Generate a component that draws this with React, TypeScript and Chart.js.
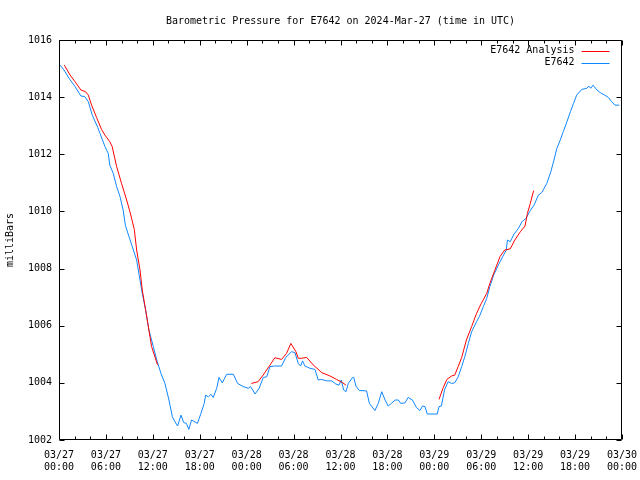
import React, { useEffect, useRef } from "react";
import { Chart, registerables } from "chart.js";

Chart.register(...registerables);

const TITLE = "Barometric Pressure for E7642 on 2024-Mar-27 (time in UTC)";
const Y_TITLE = "milliBars";
const SERIES_NAMES = ["E7642 Analysis", "E7642"];
const START_DAY = 27;
const X_TICK_HOURS = [0, 6, 12, 18, 24, 30, 36, 42, 48, 54, 60, 66, 72];
const Y_TICKS = [1002, 1004, 1006, 1008, 1010, 1012, 1014, 1016];

// Hours since 2024-03-27 00:00 UTC, pressure in mb
const stationHours = [
  0.13, 0.64, 1.28, 2.05, 2.8, 3.3, 3.75, 4.26, 4.95, 5.24, 5.88, 6.3, 6.5, 6.94, 7.37, 7.8, 8.2, 8.5, 8.95, 9.37,
  9.93, 10.36, 10.65, 11.08, 11.5, 12.06, 12.5, 13.04, 13.55, 14.06, 14.5, 14.83, 15.17, 15.6, 15.95, 16.3, 16.6,
  16.95, 17.4, 17.7, 18.15, 18.57, 18.75, 19.1, 19.43, 19.73, 20.17, 20.46, 20.88, 21.44, 22.3, 22.84, 23.56, 24.2,
  24.5, 25.07, 25.6, 26.12, 26.56, 26.98, 27.6, 28.46, 29.0, 29.74, 30.17, 30.6, 30.9, 31.15, 31.44, 32.1, 32.73,
  33.16, 33.6, 34.23, 34.87, 35.4, 35.8, 36.1, 36.4, 36.7, 37.0, 37.55, 37.7, 37.97, 38.4, 39.33, 39.7, 40.4, 40.83,
  41.27, 41.7, 42.1, 42.5, 43.0, 43.4, 43.7, 44.24, 44.66, 45.2, 45.7, 46.15, 46.5, 46.8, 47.1, 48.37, 48.6, 48.9,
  49.3, 49.76, 50.2, 50.6, 51.05, 51.5, 51.9, 52.35, 52.77, 53.4, 53.76, 54.27, 54.7, 55.1, 55.6, 56.2, 56.75, 57.2,
  57.35, 57.7, 58.2, 58.76, 59.2, 59.74, 60.17, 60.77, 61.3, 61.74, 62.38, 62.9, 63.3, 63.66, 64.1, 64.5, 64.96,
  65.4, 65.8, 66.2, 66.85, 67.5, 67.75, 68.0, 68.3, 68.8, 69.2, 69.8, 70.25, 70.68, 71.1, 71.66,
];
const stationValues = [
  1015.12, 1014.95, 1014.66, 1014.37, 1014.04, 1014.02, 1013.84, 1013.37, 1012.94, 1012.73, 1012.27, 1012.03,
  1011.62, 1011.33, 1010.87, 1010.52, 1010.05, 1009.5, 1009.12, 1008.77, 1008.3, 1007.6, 1007.13, 1006.55, 1005.85,
  1005.27, 1004.8, 1004.33, 1003.98, 1003.4, 1002.81, 1002.64, 1002.49, 1002.87, 1002.61, 1002.58, 1002.37, 1002.7,
  1002.63, 1002.58, 1002.93, 1003.28, 1003.57, 1003.51, 1003.6, 1003.49, 1003.81, 1004.19, 1004.0, 1004.3, 1004.3,
  1003.98, 1003.87, 1003.81, 1003.87, 1003.61, 1003.81, 1004.19, 1004.21, 1004.57, 1004.59, 1004.59, 1004.89,
  1005.09, 1005.06, 1004.68, 1004.59, 1004.77, 1004.59, 1004.51, 1004.47, 1004.1, 1004.12, 1004.07, 1004.07,
  1003.96, 1003.92, 1004.1, 1003.75, 1003.69, 1003.98, 1004.19, 1004.19, 1003.89, 1003.73, 1003.72, 1003.28,
  1003.03, 1003.28, 1003.69, 1003.4, 1003.19, 1003.28, 1003.4, 1003.4, 1003.28, 1003.3, 1003.49, 1003.4, 1003.14,
  1003.03, 1003.19, 1003.17, 1002.91, 1002.91, 1003.17, 1003.19, 1003.75, 1004.04, 1003.98, 1004.0, 1004.21,
  1004.57, 1004.92, 1005.38, 1005.79, 1006.14, 1006.32, 1006.67, 1006.96, 1007.37, 1007.78, 1008.13, 1008.42,
  1008.65, 1009.0, 1008.94, 1009.21, 1009.41, 1009.64, 1009.76, 1009.99, 1010.23, 1010.57, 1010.66, 1010.98,
  1011.39, 1011.8, 1012.2, 1012.5, 1012.8, 1013.14, 1013.49, 1013.78, 1014.07, 1014.27, 1014.31, 1014.39, 1014.31,
  1014.42, 1014.25, 1014.16, 1014.07, 1013.99, 1013.84, 1013.72, 1013.72,
];

// Analysis series; null marks a gap between analysis runs
const analysisHours = [
  0.68, 1.4, 2.05, 2.8, 3.4, 3.75, 4.17, 4.8, 5.44, 5.88, 6.5, 6.8, 7.37, 8.0, 8.65, 9.07, 9.63, 9.93, 10.36, 10.65,
  11.08, 11.84, 12.6, 18, 24.6, 25.45, 26.1, 26.98, 27.6, 28.46, 29.1, 29.65, 30.3, 30.6, 31.0, 31.67, 32.5, 33.6,
  34.66, 35.5, 36.3, 36.7, 42, 48.6, 49.1, 49.6, 50.2, 50.6, 51.05, 51.5, 52.1, 52.77, 53.4, 54.0, 54.7, 55.1, 55.75,
  56.4, 57.0, 57.7, 58.3, 59.0, 59.6, 59.9, 60.27, 60.7,
];
const analysisValues = [
  1015.12, 1014.78, 1014.54, 1014.25, 1014.19, 1014.07, 1013.72, 1013.29, 1012.87, 1012.67, 1012.44, 1012.27,
  1011.57, 1010.98, 1010.4, 1009.99, 1009.37, 1008.65, 1007.95, 1007.25, 1006.55, 1005.27, 1004.63, null, 1003.98,
  1004.04, 1004.27, 1004.62, 1004.88, 1004.82, 1005.03, 1005.38, 1005.09, 1004.86, 1004.86, 1004.89, 1004.63,
  1004.36, 1004.24, 1004.12, 1004.0, 1003.92, null, 1003.42, 1003.81, 1004.12, 1004.24, 1004.27, 1004.57, 1004.89,
  1005.5, 1005.97, 1006.43, 1006.78, 1007.13, 1007.48, 1007.95, 1008.42, 1008.65, 1008.69, 1009.0, 1009.29, 1009.49,
  1009.93, 1010.28, 1010.73,
];

const RED = "#ff0000";
const BLUE = "#0f86ff";
const FONT = "'DejaVu Sans Mono', 'Liberation Mono', monospace";

function pad2(n: number) {
  return n < 10 ? "0" + n : String(n);
}
function hourLabel(h: number): string[] {
  const day = START_DAY + Math.floor(h / 24);
  const hr = h % 24;
  return ["03/" + pad2(day), pad2(hr) + ":00"];
}

const framePlugin = {
  id: "frame",
  afterDatasetsDraw(chart: any) {
    const ctx = chart.ctx;
    const { left, right, top, bottom } = chart.chartArea;
    const xs = chart.scales.x;
    const ys = chart.scales.y;
    ctx.save();
    ctx.strokeStyle = "#000";
    ctx.lineWidth = 1;
    const L = Math.round(left) + 0.5;
    const R = Math.round(right) - 0.5;
    const T = Math.round(top) + 0.5;
    const B = Math.round(bottom) - 0.5;
    ctx.beginPath();
    ctx.rect(L, T, R - L, B - T);
    ctx.stroke();
    ctx.beginPath();
    for (let h = 0; h <= 72; h += 2) {
      const px = Math.round(xs.getPixelForValue(h)) + 0.5;
      const len = h % 6 === 0 ? 5 : 3;
      ctx.moveTo(px, B);
      ctx.lineTo(px, B - len);
      ctx.moveTo(px, T);
      ctx.lineTo(px, T + len);
    }
    for (const v of Y_TICKS) {
      const py = Math.round(ys.getPixelForValue(v)) + 0.5;
      ctx.moveTo(L, py);
      ctx.lineTo(L + 5, py);
      ctx.moveTo(R, py);
      ctx.lineTo(R - 5, py);
    }
    ctx.stroke();

    // legend (text right-aligned, sample line on the right)
    ctx.font = "10px " + FONT;
    ctx.textAlign = "right";
    ctx.textBaseline = "middle";
    ctx.fillStyle = "#000";
    const colors = [RED, BLUE];
    SERIES_NAMES.forEach((name, i) => {
      const y = T + 10 + i * 12;
      ctx.fillText(name, R - 47, y);
      ctx.strokeStyle = colors[i];
      ctx.beginPath();
      ctx.moveTo(R - 40, Math.round(y) + 0.5);
      ctx.lineTo(R - 12, Math.round(y) + 0.5);
      ctx.stroke();
    });
    ctx.restore();
  },
};

export default function App() {
  const ref = useRef<HTMLCanvasElement | null>(null);
  useEffect(() => {
    document.body.style.margin = "0";
    const canvas = ref.current;
    if (!canvas) return;
    const analysisData = analysisHours.map((h, i) => ({ x: h, y: analysisValues[i] }));
    const stationData = stationHours.map((h, i) => ({ x: h, y: stationValues[i] }));
    const chart = new Chart(canvas, {
      type: "line",
      data: {
        datasets: [
          {
            label: SERIES_NAMES[0],
            data: analysisData as any,
            borderColor: RED,
            backgroundColor: RED,
            borderWidth: 1,
            pointRadius: 0,
            tension: 0,
            spanGaps: false,
          },
          {
            label: SERIES_NAMES[1],
            data: stationData as any,
            borderColor: BLUE,
            backgroundColor: BLUE,
            borderWidth: 1,
            pointRadius: 0,
            tension: 0,
          },
        ],
      },
      options: {
        responsive: false,
        animation: false,
        devicePixelRatio: 1,
        layout: { padding: { left: 0, right: 18, top: 0, bottom: 0 } },
        plugins: {
          legend: { display: false },
          tooltip: { enabled: false },
          title: {
            display: true,
            fullSize: false,
            text: TITLE,
            color: "#000",
            font: { family: FONT, size: 10, weight: "normal" as any },
            padding: { top: 15, bottom: 13 },
          },
        },
        scales: {
          x: {
            type: "linear",
            min: 0,
            max: 72,
            afterBuildTicks: (scale: any) => {
              scale.ticks = X_TICK_HOURS.map((v) => ({ value: v }));
            },
            afterFit: (scale: any) => {
              scale.height = 40;
              scale.paddingLeft = 0;
              scale.paddingRight = 0;
            },
            grid: { display: false, drawTicks: false, tickLength: 0 },
            border: { display: false },
            ticks: {
              color: "#000",
              padding: 9,
              maxRotation: 0,
              autoSkip: false,
              font: { family: FONT, size: 10 },
              callback: (v: any) => hourLabel(Number(v)),
            },
          },
          y: {
            type: "linear",
            min: 1002,
            max: 1016,
            afterBuildTicks: (scale: any) => {
              scale.ticks = Y_TICKS.map((v) => ({ value: v }));
            },
            afterFit: (scale: any) => {
              scale.width = 59;
              scale.paddingTop = 0;
              scale.paddingBottom = 0;
            },
            grid: { display: false, drawTicks: false, tickLength: 0 },
            border: { display: false },
            title: {
              display: true,
              text: Y_TITLE,
              color: "#000",
              font: { family: FONT, size: 10 },
              padding: { top: 4, bottom: 0 },
            },
            ticks: {
              color: "#000",
              padding: 7,
              autoSkip: false,
              font: { family: FONT, size: 10 },
              callback: (v: any) => String(v),
            },
          },
        },
      },
      plugins: [framePlugin],
    });
    return () => chart.destroy();
  }, []);
  return (
    <div style={{ width: 640, height: 480 }}>
      <canvas ref={ref} width={640} height={480} style={{ display: "block" }} />
    </div>
  );
}
